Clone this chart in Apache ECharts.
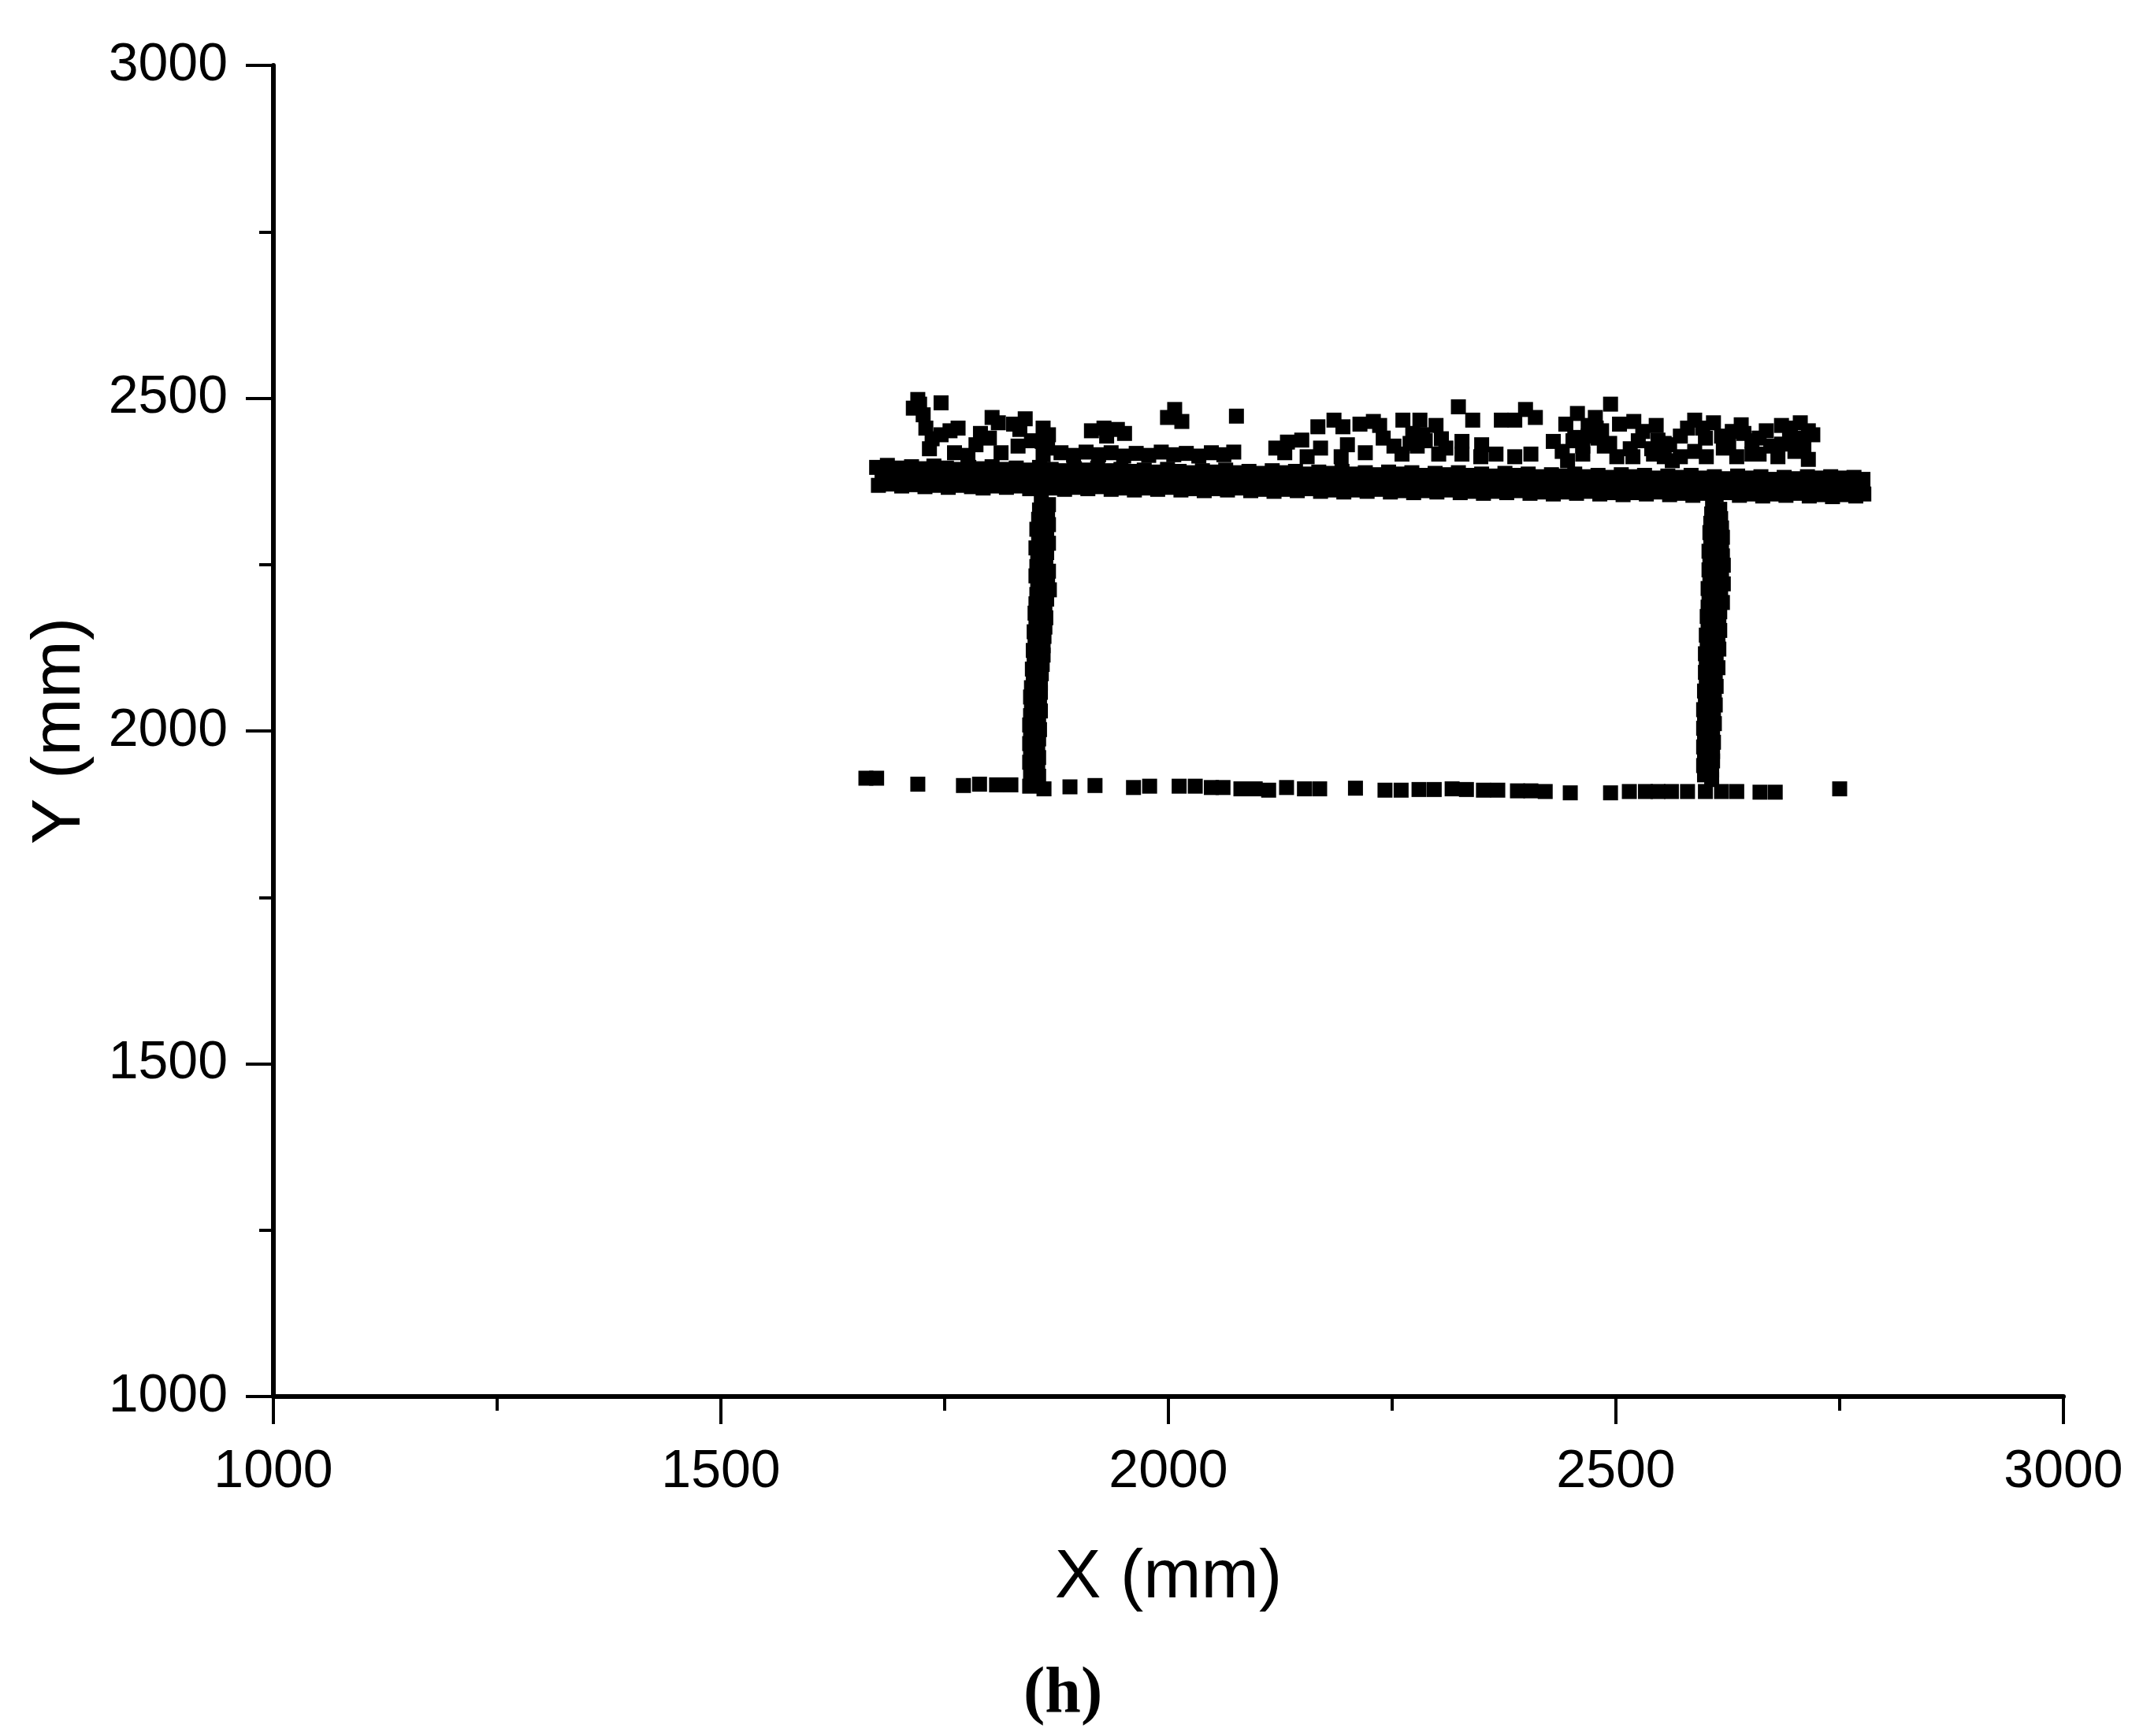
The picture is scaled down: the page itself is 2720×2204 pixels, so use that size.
<!DOCTYPE html>
<html>
<head>
<meta charset="utf-8">
<title>Point cloud (h)</title>
<script src="https://cdn.jsdelivr.net/npm/echarts@6/dist/echarts.min.js"></script>
<style>
    html, body { margin: 0; padding: 0; background: #fff; }
    #chart { width: 2720px; height: 2204px; }
</style>
</head>
<body>
<div id="chart"></div>
<script>
// Axis ranges (mm)
const xRange = [1000, 3000];
const yRange = [1000, 3000];
const tickStep = 500;

// Table top - dense band, three rows of points
const bandTop = [
    [1674,2396],[1686,2399],[1699,2395],[1713,2397],[1725,2394],[1738,2398],[1752,2395],[1764,2393],[1777,2396],[1791,2394],
    [1803,2397],[1816,2393],[1830,2395],[1843,2392],[1856,2396],[1869,2393],[1882,2391],[1895,2394],[1908,2392],[1921,2395],
    [1934,2391],[1947,2393],[1960,2390],[1973,2392],[1986,2389],[1999,2393],[2012,2390],[2025,2388],[2038,2391],[2051,2389],
    [2064,2392],[2077,2388],[2090,2390],[2103,2387],[2116,2391],[2129,2388],[2142,2390],[2155,2386],[2168,2389],[2181,2387],
    [2194,2390],[2207,2386],[2220,2388],[2233,2385],[2246,2389],[2259,2386],[2272,2388],[2285,2384],[2298,2387],[2311,2385],
    [2324,2388],[2337,2384],[2350,2386],[2363,2383],[2376,2387],[2389,2384],[2402,2386],[2415,2382],[2428,2385],[2441,2383],
    [2454,2386],[2467,2382],[2480,2384],[2493,2381],[2506,2385],[2519,2382],[2532,2384],[2545,2380],[2558,2383],[2571,2381],
    [2584,2384],[2597,2380],[2610,2382],[2623,2379],[2636,2383],[2649,2380],[2662,2382],[2675,2378],[2688,2381],[2701,2379],
    [2714,2382],[2727,2380],[2740,2382],[2753,2380],[2766,2381],[2776,2378]
];
const bandMid = [
    [1680,2383],[1693,2381],[1706,2384],[1719,2380],[1732,2382],[1745,2379],[1758,2382],[1771,2380],[1784,2383],[1797,2379],
    [1810,2381],[1823,2378],[1836,2382],[1849,2379],[1862,2381],[1875,2377],[1888,2380],[1901,2378],[1914,2381],[1927,2377],
    [1940,2379],[1953,2376],[1966,2379],[1979,2377],[1992,2380],[2005,2376],[2018,2378],[2031,2375],[2044,2378],[2057,2376],
    [2070,2379],[2083,2375],[2096,2377],[2109,2374],[2122,2377],[2135,2375],[2148,2378],[2161,2374],[2174,2376],[2187,2373],
    [2200,2376],[2213,2374],[2226,2377],[2239,2373],[2252,2375],[2265,2372],[2278,2375],[2291,2373],[2304,2376],[2317,2372],
    [2330,2374],[2343,2371],[2356,2374],[2369,2372],[2382,2375],[2395,2371],[2408,2373],[2421,2370],[2434,2373],[2447,2371],
    [2460,2374],[2473,2370],[2486,2372],[2499,2369],[2512,2372],[2525,2370],[2538,2373],[2551,2369],[2564,2371],[2577,2368],
    [2590,2371],[2603,2369],[2616,2372],[2629,2368],[2642,2370],[2655,2367],[2668,2370],[2681,2368],[2694,2371],[2707,2367],
    [2720,2369],[2733,2366],[2746,2369],[2759,2367],[2772,2368]
];
const bandLow = [
    [1676,2369],[1689,2371],[1702,2368],[1715,2370],[1728,2367],[1741,2369],[1754,2366],[1767,2369],[1780,2367],[1793,2365],
    [1806,2368],[1819,2366],[1832,2368],[1845,2364],[1858,2367],[1871,2365],[1884,2363],[1897,2366],[1910,2364],[1923,2367],
    [1936,2363],[1949,2365],[1962,2362],[1975,2365],[1988,2363],[2001,2366],[2014,2362],[2027,2364],[2040,2361],[2053,2364],
    [2066,2362],[2079,2365],[2092,2361],[2105,2363],[2118,2360],[2131,2363],[2144,2361],[2157,2364],[2170,2360],[2183,2362],
    [2196,2359],[2209,2362],[2222,2360],[2235,2363],[2248,2359],[2261,2361],[2274,2358],[2287,2361],[2300,2359],[2313,2362],
    [2326,2358],[2339,2360],[2352,2357],[2365,2360],[2378,2358],[2391,2361],[2404,2357],[2417,2359],[2430,2356],[2443,2359],
    [2456,2357],[2469,2360],[2482,2356],[2495,2358],[2508,2355],[2521,2358],[2534,2356],[2547,2359],[2560,2355],[2573,2357],
    [2586,2354],[2599,2357],[2612,2355],[2625,2358],[2638,2354],[2651,2356],[2664,2353],[2677,2356],[2690,2354],[2703,2357],
    [2716,2353],[2729,2355],[2742,2352],[2755,2355],[2768,2353],[2777,2356]
];

// Noise above the table top
const aboveTop = [
    [1715,2485],[1720,2498],[1722,2491],[1726,2475],[1746,2493],[1729,2455],[1736,2439],[1733,2424],[1746,2445],[1756,2451],
    [1765,2455],[1790,2447],[1785,2430],[1800,2440],
    [1803,2471],[1810,2463],[1827,2461],[1840,2469],[1834,2453],[1761,2418],[1776,2414],[1813,2418],[1832,2428],[1847,2436],
    [1860,2455],[1866,2445],[1859,2435],[1865,2425],[1860,2415],
    [1914,2451],[1928,2455],[1931,2443],[1943,2453],[1951,2447],[2007,2483],[1999,2471],[2015,2465],[2076,2473],[2133,2434],
    [1880,2418],[1894,2414],[1908,2419],[1922,2415],[1936,2418],[1950,2413],[1964,2417],[1978,2414],[1992,2419],[2006,2415],
    [2020,2417],[2034,2413],[2048,2418],[2062,2415],[2073,2419],[2130,2418],[2120,2425],
    [2149,2437],[2167,2457],[2185,2467],[2195,2457],[2214,2461],[2229,2465],[2236,2459],[2262,2467],[2281,2467],[2299,2459],
    [2273,2447],[2284,2445],[2305,2439],[2324,2487],[2340,2467],[2328,2435],[2372,2467],[2387,2467],[2399,2483],[2410,2471],
    [2430,2435],[2444,2461],[2457,2477],[2454,2441],[2477,2471],[2478,2455],[2494,2491],[2504,2461],[2493,2432],[2469,2443],
    [2520,2465],[2545,2459],[2547,2437],[2540,2424],[2572,2443],[2525,2436],[2516,2424],[2563,2406],
    [2270,2432],[2287,2436],[2469,2459],[2484,2451],[2487,2428],[2554,2432],[2542,2416],[2452,2436],[2463,2428],
    [2170,2425],[2200,2430],[2240,2440],[2310,2425],[2350,2430],[2440,2420],[2480,2440],
    [2155,2412],[2193,2412],[2220,2418],[2252,2428],[2261,2416],[2278,2428],[2302,2416],[2328,2416],[2349,2412],[2366,2416],
    [2387,2412],[2405,2416],[2446,2406],[2463,2416],[2501,2412],[2519,2412],[2554,2412],
    [2588,2467],[2597,2455],[2609,2463],[2618,2443],[2588,2420],[2601,2412],[2626,2428],[2643,2447],[2652,2436],[2668,2451],
    [2685,2459],[2673,2428],[2694,2440],[2706,2463],[2715,2451],[2710,2428],[2715,2408],[2660,2416],[2681,2412],[2635,2412],
    [2572,2412],[2685,2431],[2652,2416],[2706,2440],
    [2530,2450],[2560,2430],[2580,2455],[2600,2440],[2620,2425],[2640,2460],[2660,2440],[2695,2455],[2720,2445],[2700,2420],
    [2630,2450]
];

// Table legs
const legLeft = [
    [1858,2346],[1866,2340],[1856,2332],[1865,2325],[1855,2318],[1866,2310],[1853,2303],[1864,2296],[1855,2289],[1866,2282],
    [1852,2275],[1864,2268],[1854,2261],[1863,2254],[1853,2247],[1866,2240],[1852,2233],[1865,2226],[1854,2219],[1867,2212],
    [1853,2205],[1864,2198],[1852,2191],[1862,2184],[1851,2177],[1863,2170],[1852,2163],[1862,2156],[1850,2149],[1861,2142],
    [1851,2135],[1860,2128],[1849,2121],[1860,2114],[1850,2107],[1859,2100],[1848,2093],[1858,2086],[1849,2079],[1857,2072],
    [1847,2065],[1857,2058],[1846,2051],[1856,2044],[1847,2037],[1857,2030],[1846,2023],[1855,2016],[1845,2009],[1856,2002],
    [1846,1995],[1855,1988],[1845,1981],[1854,1974],[1846,1967],[1855,1960],[1845,1953],[1854,1946],[1846,1939],[1855,1932]
];
const legRight = [
    [2608,2340],[2616,2333],[2607,2326],[2617,2319],[2606,2312],[2618,2305],[2605,2298],[2619,2291],[2606,2284],[2618,2277],
    [2604,2270],[2619,2263],[2605,2256],[2620,2249],[2604,2242],[2618,2235],[2605,2228],[2620,2221],[2603,2214],[2617,2207],
    [2604,2200],[2619,2193],[2603,2186],[2616,2179],[2602,2172],[2615,2165],[2603,2158],[2616,2151],[2601,2144],[2614,2137],
    [2602,2130],[2615,2123],[2600,2116],[2612,2109],[2601,2102],[2614,2095],[2600,2088],[2611,2081],[2601,2074],[2612,2067],
    [2599,2060],[2610,2053],[2600,2046],[2611,2039],[2598,2032],[2609,2025],[2599,2018],[2610,2011],[2598,2004],[2608,1997],
    [2599,1990],[2609,1983],[2598,1976],[2608,1969],[2599,1962],[2608,1955],[2598,1948],[2607,1941],[2599,1934],[2607,1927]
];

// Floor line
const floorRow = [
    [1662,1929],[1674,1929],[1720,1920],[1771,1918],[1789,1920],[1808,1919],[1824,1919],[1845,1917],[1861,1913],[1890,1916],
    [1918,1918],[1961,1915],[1979,1917],[2012,1917],[2030,1917],[2048,1915],[2061,1915],[2081,1913],[2097,1913],[2112,1911],
    [2132,1915],[2152,1913],[2169,1913],[2209,1914],[2242,1911],[2260,1911],[2280,1912],[2297,1912],[2317,1913],[2333,1912],
    [2352,1911],[2368,1911],[2390,1910],[2405,1910],[2421,1909],[2449,1907],[2494,1907],[2515,1909],[2533,1909],[2547,1909],
    [2562,1909],[2580,1909],[2600,1909],[2618,1909],[2635,1909],[2661,1908],[2678,1908],[2750,1913]
];

document.addEventListener('DOMContentLoaded', function() {
    initChart();
});

function axisStyle(name, gap, labelMargin) {
    return {
        type: 'value',
        interval: tickStep,
        name: name,
        nameLocation: 'middle',
        nameGap: gap,
        nameTextStyle: { fontSize: 88, color: '#000', fontFamily: 'Liberation Sans' },
        axisLine: { show: true, onZero: false, lineStyle: { color: '#000', width: 6 } },
        axisTick: { show: true, inside: false, length: 35, lineStyle: { color: '#000', width: 4 } },
        minorTick: { show: true, splitNumber: 2, length: 18, lineStyle: { color: '#000', width: 4 } },
        splitLine: { show: false },
        minorSplitLine: { show: false },
        axisLabel: {
            fontSize: 68,
            color: '#000',
            margin: labelMargin,
            fontFamily: 'Liberation Sans',
            formatter: function(v) { return String(v); } // no thousands separator
        }
    };
}

function pointSeries(name, data) {
    return {
        name: name,
        type: 'scatter',
        data: data,
        symbol: 'rect',
        symbolSize: 19,
        itemStyle: { color: '#000', opacity: 1 },
        silent: true
    };
}

function initChart() {
    const chart = echarts.init(document.getElementById('chart'), null, { renderer: 'canvas' });

    const xAxis = axisStyle('X (mm)', 187, 62);
    xAxis.min = xRange[0];
    xAxis.max = xRange[1];
    const yAxis = axisStyle('Y (mm)', 226, 58);
    yAxis.min = yRange[0];
    yAxis.max = yRange[1];

    chart.setOption({
        backgroundColor: '#fff',
        animation: false,
        title: {
            text: '(h)',
            left: 1294,
            top: 2106,
            textStyle: { fontFamily: 'Liberation Serif', fontWeight: 'bold', fontSize: 82, color: '#000' }
        },
        grid: { left: 347, top: 83, width: 2272, height: 1690, containLabel: false, outerBoundsMode: 'none' },
        xAxis: xAxis,
        yAxis: yAxis,
        series: [
            pointSeries('bandTop', bandTop),
            pointSeries('bandMid', bandMid),
            pointSeries('bandLow', bandLow),
            pointSeries('aboveTop', aboveTop),
            pointSeries('legLeft', legLeft),
            pointSeries('legRight', legRight),
            pointSeries('floorRow', floorRow)
        ]
    });
}
</script>
</body>
</html>
